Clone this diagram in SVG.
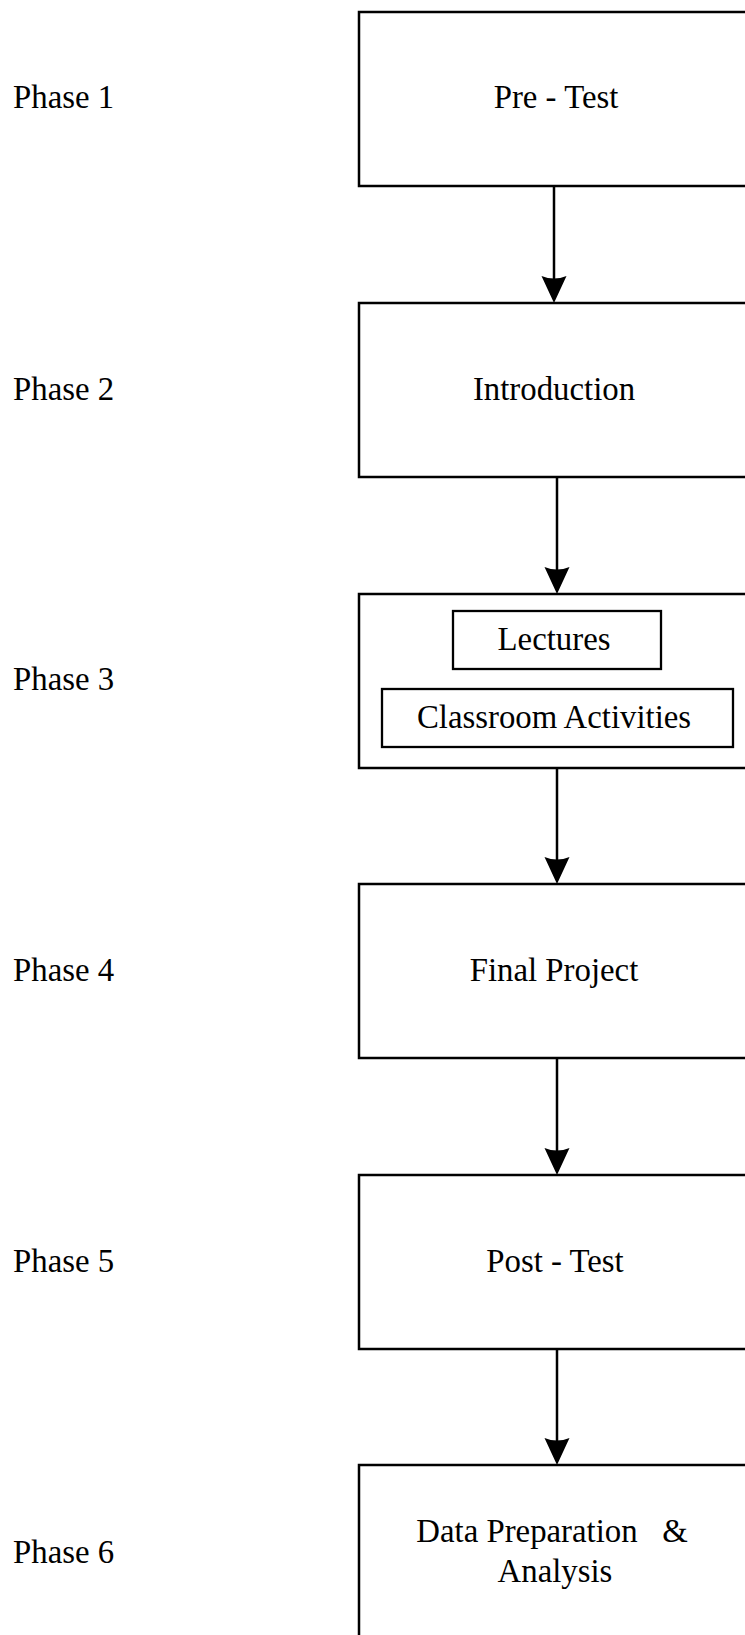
<svg xmlns="http://www.w3.org/2000/svg" width="745" height="1635" viewBox="0 0 745 1635">
  <style>
    .box { fill: #ffffff; stroke: #000000; stroke-width: 2.5; }
    .inner { fill: #ffffff; stroke: #000000; stroke-width: 2.3; }
    .lbl { font-family: "Liberation Serif", "Times New Roman", serif; font-size: 32.8px; fill: #000000; }
    .mid { text-anchor: middle; white-space: pre; }
    .link { stroke: #000000; stroke-width: 2.5; fill: none; }
    .head { fill: #000000; stroke: none; }
  </style>
  <defs>
    <!-- filled arrowhead, tip at origin pointing down -->
    <path id="tip" class="head" d="M -12.5 -27 Q 0 -22 12.5 -27 L 0 0 Z"/>
  </defs>
  <rect width="745" height="1635" fill="#ffffff"/>

  <!-- phase labels -->
  <g id="phases">
    <text class="lbl" x="13" y="108">Phase 1</text>
    <text class="lbl" x="13" y="400">Phase 2</text>
    <text class="lbl" x="13" y="690">Phase 3</text>
    <text class="lbl" x="13" y="981">Phase 4</text>
    <text class="lbl" x="13" y="1272">Phase 5</text>
    <text class="lbl" x="13" y="1563">Phase 6</text>
  </g>

  <!-- connectors -->
  <g id="connectors">
    <line class="link" x1="554" y1="186" x2="554" y2="285"/>
    <use href="#tip" x="554" y="303"/>
    <line class="link" x1="557" y1="477" x2="557" y2="576"/>
    <use href="#tip" x="557" y="594"/>
    <line class="link" x1="557" y1="768" x2="557" y2="866"/>
    <use href="#tip" x="557" y="884"/>
    <line class="link" x1="557" y1="1058" x2="557" y2="1157"/>
    <use href="#tip" x="557" y="1175"/>
    <line class="link" x1="557" y1="1349" x2="557" y2="1447"/>
    <use href="#tip" x="557" y="1465"/>
  </g>

  <g id="pre-test">
    <rect class="box" x="359" y="12" width="420" height="174"/>
    <text class="lbl mid" x="556" y="108">Pre - Test</text>
  </g>

  <g id="introduction">
    <rect class="box" x="359" y="303" width="420" height="174"/>
    <text class="lbl mid" x="554" y="400">Introduction</text>
  </g>

  <g id="instruction">
    <rect class="box" x="359" y="594" width="420" height="174"/>
    <g id="lectures">
      <rect class="inner" x="453" y="611" width="208" height="58"/>
      <text class="lbl mid" x="554" y="650">Lectures</text>
    </g>
    <g id="classroom-activities">
      <rect class="inner" x="382" y="689" width="351" height="58"/>
      <text class="lbl mid" x="554" y="728">Classroom Activities</text>
    </g>
  </g>

  <g id="final-project">
    <rect class="box" x="359" y="884" width="420" height="174"/>
    <text class="lbl mid" x="554" y="981">Final Project</text>
  </g>

  <g id="post-test">
    <rect class="box" x="359" y="1175" width="420" height="174"/>
    <text class="lbl mid" x="555" y="1272">Post - Test</text>
  </g>

  <g id="data-analysis">
    <rect class="box" x="359" y="1465" width="420" height="200"/>
    <text class="lbl mid" x="552" y="1542">Data Preparation   &amp;</text>
    <text class="lbl mid" x="555" y="1582">Analysis</text>
  </g>
</svg>
